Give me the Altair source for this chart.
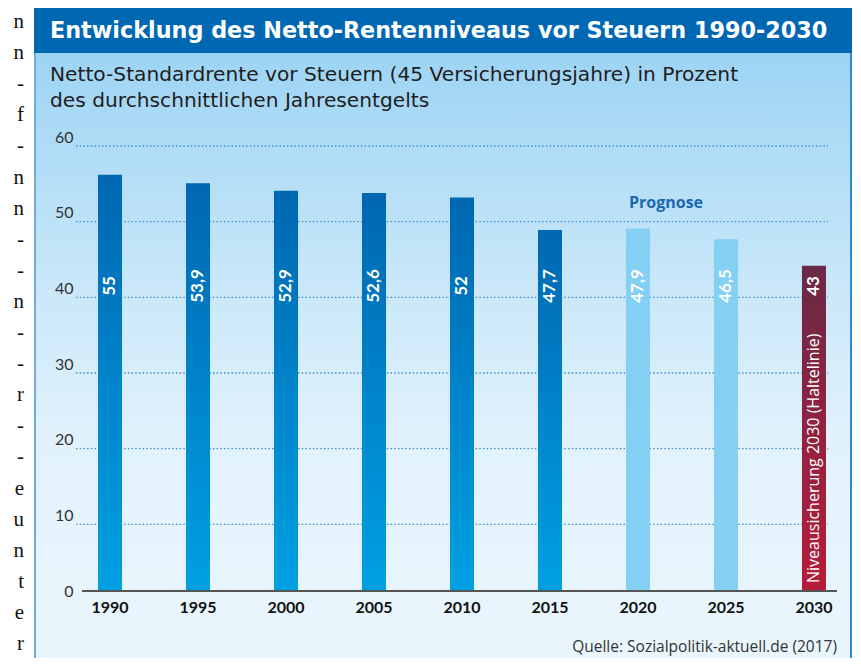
import altair as alt
import pandas as pd

# ---------------- data ----------------
jahre = ["1990", "1995", "2000", "2005", "2010", "2015", "2020", "2025", "2030"]
werte = [55, 53.9, 52.9, 52.6, 52, 47.7, 47.9, 46.5, 43]
wert_labels = ["55", "53,9", "52,9", "52,6", "52", "47,7", "47,9", "46,5", "43"]
typ = ["Ist", "Ist", "Ist", "Ist", "Ist", "Ist", "Prognose", "Prognose", "Haltelinie"]
y_ticks = [0, 10, 20, 30, 40, 50, 60]
grid_werte = [10, 20, 30, 40, 50, 60]

titel = "Entwicklung des Netto-Rentenniveaus vor Steuern 1990-2030"
untertitel = ["Netto-Standardrente vor Steuern (45 Versicherungsjahre) in Prozent",
              "des durchschnittlichen Jahresentgelts"]
prognose_text = "Prognose"
halte_text = "Niveausicherung 2030 (Haltelinie)"
quelle = "Quelle: Sozialpolitik-aktuell.de (2017)"
rand_zeichen = ["n", "n", "-", "f", "-", "n", "n", "-", "-", "n", "-", "-", "r",
                "-", "-", "e", "u", "n", "t", "e", "r"]

df = pd.DataFrame({"jahr": jahre, "wert": werte, "label": wert_labels, "typ": typ})
grid_df = pd.DataFrame({"g": grid_werte})
one = pd.DataFrame({"k": [0]})

FONT = "DejaVu Sans"
NUMFONT = "Lato"

x_enc = alt.X("jahr:O", sort=jahre,
              scale=alt.Scale(paddingInner=0.727, paddingOuter=0.182),
              axis=alt.Axis(title=None, labelAngle=0, domain=False, ticks=False,
                            labelPadding=8, labelFontSize=16, labelFontWeight="bold",
                            labelFont=NUMFONT, labelColor="#111111", zindex=2))
y_axis = alt.Axis(title=None, values=y_ticks, grid=False, domain=False, ticks=False,
                  labelPadding=9, labelFontSize=16, labelFont=NUMFONT,
                  labelColor="#333333", zindex=2)
y_scale = alt.Scale(domain=[0, 60], nice=False, zero=True)


def grad(stops):
    return alt.LinearGradient(
        gradient="linear", x1=0, x2=0, y1=0, y2=1,
        stops=[alt.GradientStop(offset=o, color=c) for o, c in stops])


# frame background
bg = alt.Chart(one).mark_rect(
    color=grad([(0, "#9dd4f4"), (0.4, "#cbe8f9"), (0.65, "#e2f2fc"), (1, "#eaf6fd")])
).encode(x=alt.value(-48), x2=alt.value(770), y=alt.value(-84), y2=alt.value(521))

title_bar = alt.Chart(one).mark_rect(color="#0068b3").encode(
    x=alt.value(-48), x2=alt.value(770), y=alt.value(-129), y2=alt.value(-84))

left_border = alt.Chart(one).mark_rule(color="#72acd9", strokeWidth=2).encode(
    x=alt.value(-47), y=alt.value(-84), y2=alt.value(521))
right_border = alt.Chart(one).mark_rule(color="#2b8bd2", strokeWidth=2).encode(
    x=alt.value(769), y=alt.value(-84), y2=alt.value(521))

title_text = alt.Chart(pd.DataFrame({"t": [titel]})).mark_text(
    font=FONT, fontSize=22.3, fontWeight="bold", color="white",
    align="left", baseline="middle"
).encode(text="t:N", x=alt.value(-32), y=alt.value(-106))

sub_text = alt.Chart(one).mark_text(
    font=FONT, fontSize=20.2, color="#1e1e1e", align="left", baseline="middle",
    lineHeight=26
).encode(text=alt.value(untertitel), x=alt.value(-32), y=alt.value(-62))

grid = alt.Chart(grid_df).mark_rule(
    color="#3f8fd2", strokeWidth=1.3, strokeDash=[1.5, 2.2], yOffset=9
).encode(y=alt.Y("g:Q", scale=y_scale, axis=y_axis),
         x=alt.value(-6), x2=alt.value(746))

bars_ist = alt.Chart(df).transform_filter(alt.datum.typ == "Ist").mark_bar(
    color=grad([(0, "#0067b1"), (1, "#00a0e3")])
).encode(x=x_enc, y=alt.Y("wert:Q", scale=y_scale, axis=y_axis))

bars_prog = alt.Chart(df).transform_filter(alt.datum.typ == "Prognose").mark_bar(
    color="#84cff4"
).encode(x=x_enc, y=alt.Y("wert:Q", scale=y_scale, axis=y_axis))

bars_halte = alt.Chart(df).transform_filter(alt.datum.typ == "Haltelinie").mark_bar(
    color=grad([(0, "#6a2946"), (1, "#b61c3a")])
).encode(x=x_enc, y=alt.Y("wert:Q", scale=y_scale, axis=y_axis))

baseline = alt.Chart(one).mark_rule(color="#555555", strokeWidth=2).encode(
    y=alt.datum(0), x=alt.value(0), x2=alt.value(755))

value_text = alt.Chart(df).mark_text(
    font=NUMFONT, fontSize=17, fontWeight="bold", color="white", angle=270,
    align="center", baseline="middle"
).encode(x=x_enc, y=alt.value(149), text="label:N")

halte_label = alt.Chart(pd.DataFrame({"jahr": ["2030"], "t": [halte_text]})).mark_text(
    font="Open Sans", fontSize=16, color="white", angle=270, align="left",
    baseline="middle"
).encode(x=x_enc, y=alt.value(446), text="t:N")

prog_label = alt.Chart(pd.DataFrame({"t": [prognose_text]})).mark_text(
    font="Open Sans", fontSize=16, fontWeight="bold", color="#1a68b2", align="center",
    baseline="middle"
).encode(x=alt.value(584), y=alt.value(66), text="t:N")

quelle_text = alt.Chart(pd.DataFrame({"t": [quelle]})).mark_text(
    font="Open Sans", fontSize=15.5, color="#333333", align="right", baseline="middle"
).encode(x=alt.value(755), y=alt.value(510), text="t:N")

rand_text = alt.Chart(one).mark_text(
    font="Liberation Serif", fontSize=21, color="#111111", align="right",
    baseline="alphabetic", lineHeight=31.1
).encode(text=alt.value(rand_zeichen), x=alt.value(-58), y=alt.value(-109))

chart = alt.layer(
    bg, title_bar, left_border, right_border, title_text, sub_text, grid,
    bars_ist, bars_prog, bars_halte, baseline, value_text, halte_label,
    prog_label, quelle_text, rand_text
).properties(
    width=760, height=454,
    autosize=alt.AutoSizeParams(type="none"),
    padding={"left": 74, "top": 129, "right": 11, "bottom": 67},
    background="white"
).configure_view(stroke=None)

chart.save("out.html", embed_options={"renderer": "svg", "actions": False})
